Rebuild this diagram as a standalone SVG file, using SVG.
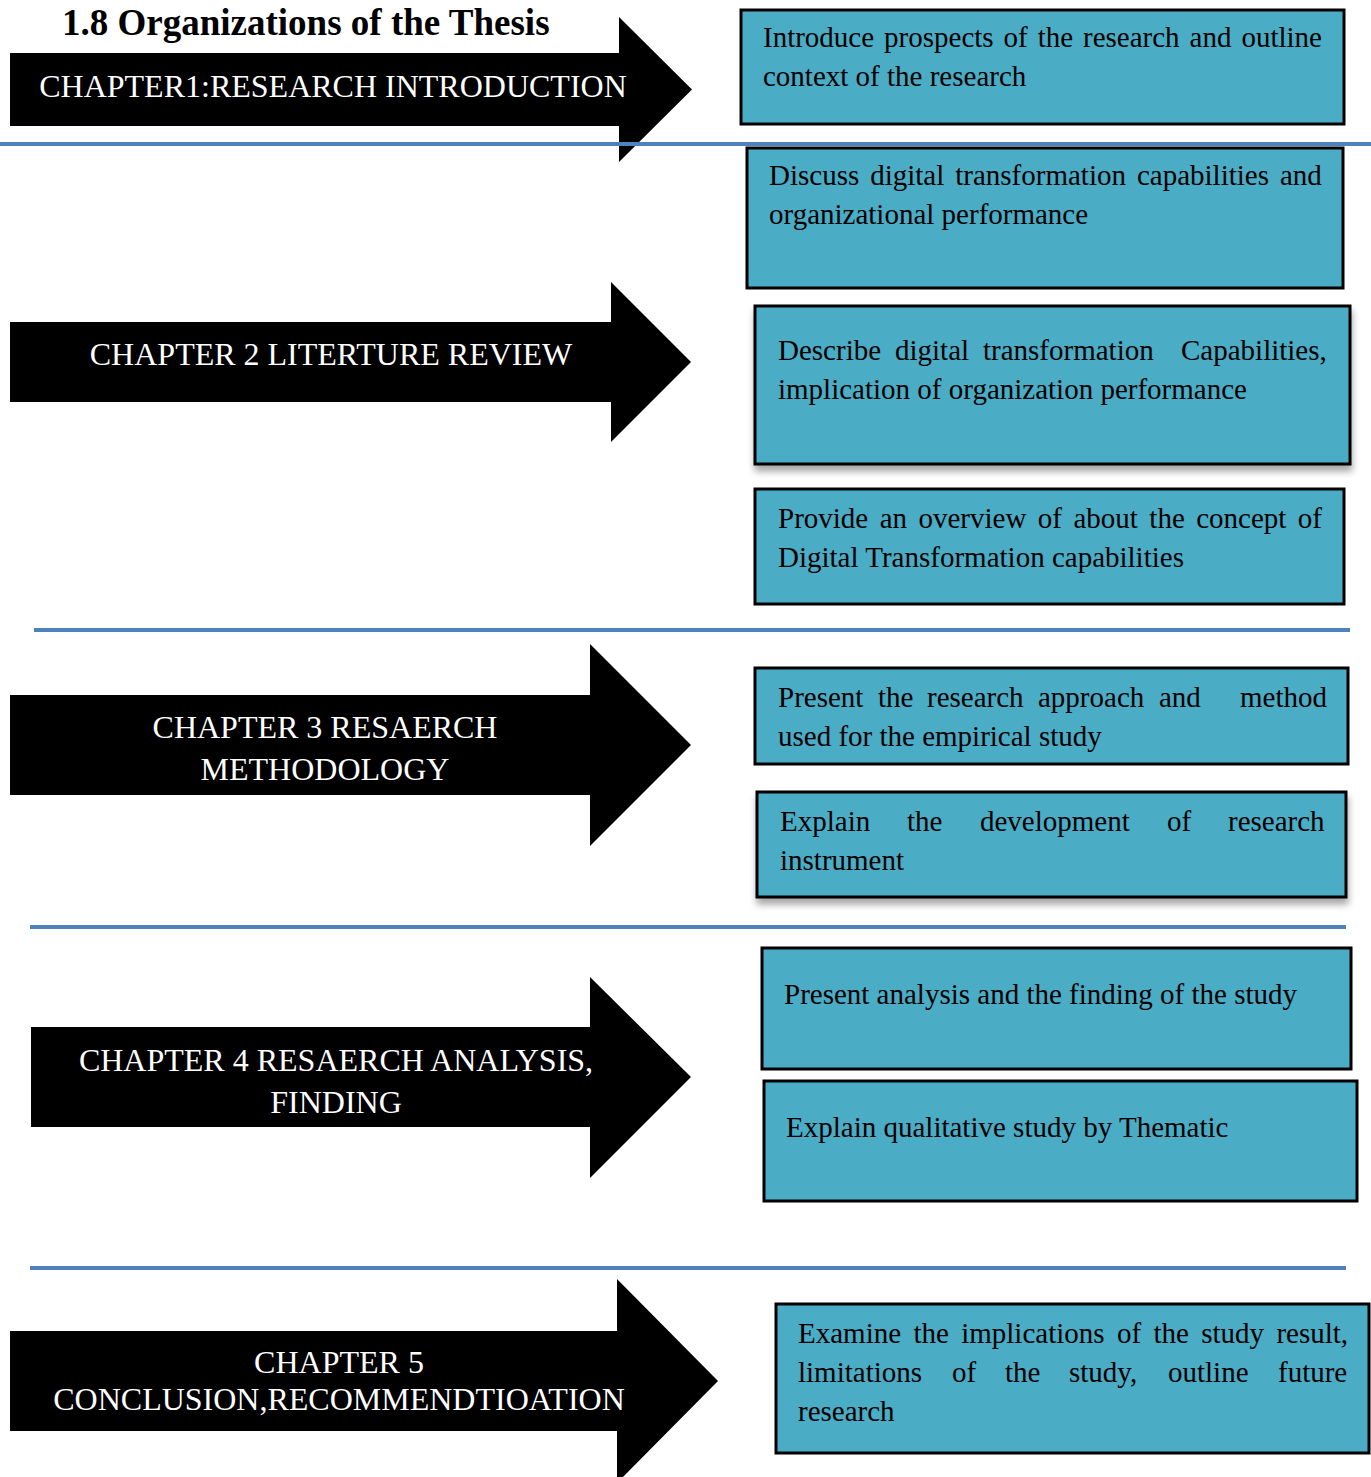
<svg xmlns="http://www.w3.org/2000/svg" width="1371" height="1477" viewBox="0 0 1371 1477">
  <style>
    .arrow { fill: #000000; }
    .chap { font-family: "Liberation Serif", "Times New Roman", serif; font-size: 32px; fill: #ffffff; text-anchor: middle; }
    .box { fill: #4bacc6; stroke: #000000; stroke-width: 3; }
    .txt { font-family: "Liberation Serif", "Times New Roman", serif; font-size: 29px; fill: #000000; }
    .title { font-family: "Liberation Serif", "Times New Roman", serif; font-size: 37px; font-weight: bold; fill: #000000; }
    .divider { stroke: #4f81bd; stroke-width: 4; fill: none; }
  </style>
  <defs>
    <filter id="shadow" x="-5%" y="-10%" width="110%" height="130%">
      <feDropShadow dx="1" dy="6" stdDeviation="3.5" flood-color="#000000" flood-opacity="0.35"/>
    </filter>
  </defs>

  <rect width="1371" height="1477" fill="#ffffff"/>

  <text class="title" x="62" y="35">1.8 Organizations of the Thesis</text>

  <!-- Chapter arrows -->
  <g id="chapter1">
    <path class="arrow" d="M10,53 H619 V17 L692,89.5 L619,162 V126 H10 Z"/>
    <text class="chap" x="333" y="97">CHAPTER1:RESEARCH INTRODUCTION</text>
  </g>
  <g id="chapter2">
    <path class="arrow" d="M10,322 H611 V282 L691,362 L611,442 V402 H10 Z"/>
    <text class="chap" x="331" y="365">CHAPTER 2 LITERTURE REVIEW</text>
  </g>
  <g id="chapter3">
    <path class="arrow" d="M10,695 H590 V644 L691,745 L590,846 V795 H10 Z"/>
    <text class="chap" x="325" y="738">CHAPTER 3 RESAERCH</text>
    <text class="chap" x="325" y="780">METHODOLOGY</text>
  </g>
  <g id="chapter4">
    <path class="arrow" d="M31,1027 H590 V977 L691,1077 L590,1178 V1127 H31 Z"/>
    <text class="chap" x="336" y="1071">CHAPTER 4 RESAERCH ANALYSIS,</text>
    <text class="chap" x="336" y="1113">FINDING</text>
  </g>
  <g id="chapter5">
    <path class="arrow" d="M10,1331 H617 V1279 L718,1381 L617,1483 V1431 H10 Z"/>
    <text class="chap" x="339" y="1373">CHAPTER 5</text>
    <text class="chap" x="339" y="1410">CONCLUSION,RECOMMENDTIOATION</text>
  </g>

  <!-- Description boxes -->
  <g id="box-intro">
    <rect class="box" x="741" y="10" width="603" height="114"/>
    <text class="txt" x="763" y="47" word-spacing="2.7">Introduce prospects of the research and outline</text>
    <text class="txt" x="763" y="86">context of the research</text>
  </g>
  <g id="box-discuss">
    <rect class="box" x="747" y="148" width="596" height="140"/>
    <text class="txt" x="769" y="185" word-spacing="3.7">Discuss digital transformation capabilities and</text>
    <text class="txt" x="769" y="224">organizational performance</text>
  </g>
  <g id="box-describe">
    <rect class="box" x="755" y="306" width="595" height="158" filter="url(#shadow)"/>
    <text class="txt" y="360"><tspan x="778">Describe</tspan><tspan x="895">digital</tspan><tspan x="983">transformation</tspan><tspan x="1181">Capabilities,</tspan></text>
    <text class="txt" x="778" y="399">implication of organization performance</text>
  </g>
  <g id="box-overview">
    <rect class="box" x="755" y="489" width="589" height="115"/>
    <text class="txt" x="778" y="528" word-spacing="4.2">Provide an overview of about the concept of</text>
    <text class="txt" x="778" y="567">Digital Transformation capabilities</text>
  </g>
  <g id="box-approach">
    <rect class="box" x="755" y="668" width="593" height="96"/>
    <text class="txt" y="707"><tspan x="778">Present</tspan><tspan x="878">the</tspan><tspan x="927">research</tspan><tspan x="1038">approach</tspan><tspan x="1159">and</tspan><tspan x="1240">method</tspan></text>
    <text class="txt" x="778" y="746">used for the empirical study</text>
  </g>
  <g id="box-instrument">
    <rect class="box" x="757" y="792" width="589" height="105" filter="url(#shadow)"/>
    <text class="txt" y="831"><tspan x="780">Explain</tspan><tspan x="907">the</tspan><tspan x="980">development</tspan><tspan x="1167">of</tspan><tspan x="1228">research</tspan></text>
    <text class="txt" x="780" y="870">instrument</text>
  </g>
  <g id="box-analysis">
    <rect class="box" x="762" y="948" width="589" height="121"/>
    <text class="txt" x="784" y="1004">Present analysis and the finding of the study</text>
  </g>
  <g id="box-thematic">
    <rect class="box" x="764" y="1081" width="593" height="120"/>
    <text class="txt" x="786" y="1137">Explain qualitative study by Thematic</text>
  </g>
  <g id="box-conclusion">
    <rect class="box" x="776" y="1304" width="593" height="149"/>
    <text class="txt" x="798" y="1343" word-spacing="5.1">Examine the implications of the study result,</text>
    <text class="txt" y="1382"><tspan x="798">limitations</tspan><tspan x="952">of</tspan><tspan x="1005">the</tspan><tspan x="1069">study,</tspan><tspan x="1168">outline</tspan><tspan x="1278">future</tspan></text>
    <text class="txt" x="798" y="1421">research</text>
  </g>

  <!-- Section dividers -->
  <g id="dividers">
    <line class="divider" x1="0" y1="144" x2="1371" y2="144"/>
    <line class="divider" x1="34" y1="630" x2="1350" y2="630"/>
    <line class="divider" x1="30" y1="927" x2="1346" y2="927"/>
    <line class="divider" x1="30" y1="1268" x2="1346" y2="1268"/>
  </g>
</svg>
